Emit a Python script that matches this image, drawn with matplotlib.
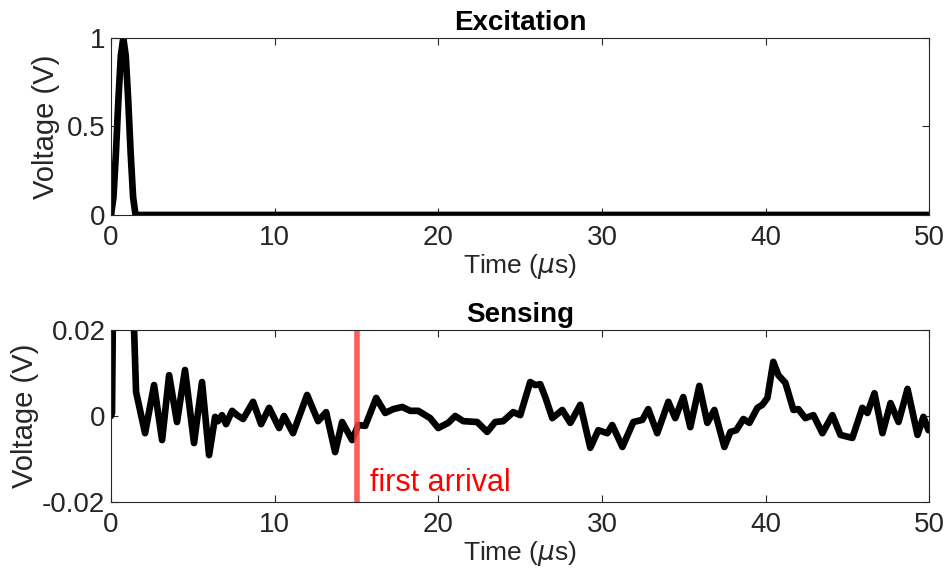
"""Excitation / sensing waveforms, two stacked panels in MATLAB look."""
import matplotlib
matplotlib.use("Agg")
import matplotlib.pyplot as plt  # noqa: E402

# Excitation pulse (us, V)
exc_t = [0, 0.15, 0.3, 0.45, 0.6, 0.75, 0.9, 1.05, 1.2, 1.35, 1.5, 50]
exc_v = [0, 0.1, 0.35, 0.65, 0.9, 1.0, 0.9, 0.65, 0.35, 0.1, 0, 0]

# Sensed signal (us, V)
sens_t = [0, 0.06, 0.12, 0.3, 0.8, 1.3, 1.41, 1.53, 2.08, 2.63, 3.12, 3.55,
          4.03, 4.52, 5.07, 5.56, 5.99, 6.36, 6.54, 6.78, 7.03, 7.40, 7.70,
          8.07, 8.68, 9.17, 9.66, 10.27, 10.57, 11.12, 11.98, 12.65, 13.14,
          13.69, 14.12, 14.73, 15.10, 15.53, 16.20, 16.75, 17.24, 17.79,
          18.28, 18.77, 19.50, 19.99, 20.60, 21.03, 21.52, 22.37, 22.98,
          23.47, 23.96, 24.57, 25.00, 25.61, 25.92, 26.22, 26.53, 26.96,
          27.57, 28.06, 28.67, 29.28, 29.77, 30.32, 30.62, 31.24, 31.91,
          32.46, 32.82, 33.37, 34.05, 34.47, 34.96, 35.39, 35.94, 36.43,
          36.86, 37.47, 37.84, 38.20, 38.63, 39.00, 39.49, 39.79, 40.10,
          40.46, 40.77, 41.20, 41.69, 41.99, 42.42, 42.91, 43.46, 44.07,
          44.56, 45.29, 45.90, 46.21, 46.64, 47.13, 47.62, 48.11, 48.66,
          49.27, 49.63, 49.94]
sens_v = [0, 0.0007, 0.025, 0.035, 0.05, 0.03, 0.02, 0.0056, -0.0040,
          0.0072, -0.0056, 0.0095, -0.0014, 0.0107, -0.0063, 0.0079,
          -0.0091, -0.0002, -0.0012, 0.0002, -0.0019, 0.0012, 0.0002,
          -0.0007, 0.0033, -0.0019, 0.0019, -0.0028, 0.0, -0.0040, 0.0049,
          -0.0012, 0.0009, -0.0084, -0.0014, -0.0056, -0.0021, -0.0023,
          0.0042, 0.0007, 0.0016, 0.0021, 0.0012, 0.0012, -0.0005, -0.0028,
          -0.0016, 0.0, -0.0012, -0.0014, -0.0037, -0.0014, -0.0012, 0.0009,
          0.0002, 0.0079, 0.0072, 0.0074, 0.0044, -0.0005, 0.0014, -0.0016,
          0.0026, -0.0074, -0.0033, -0.0040, -0.0021, -0.0072, -0.0014,
          -0.0009, 0.0016, -0.0040, 0.0033, -0.0005, 0.0044, -0.0026, 0.0070,
          -0.0016, 0.0014, -0.0072, -0.0037, -0.0033, -0.0007, -0.0016,
          0.0019, 0.0026, 0.0042, 0.0126, 0.0095, 0.0077, 0.0014, 0.0016,
          -0.0005, 0.0002, -0.0040, 0.0002, -0.0044, -0.0051, 0.0019, 0.0007,
          0.0053, -0.0040, 0.0030, -0.0014, 0.0063, -0.0044, -0.0002,
          -0.0033]

first_arrival_t = 15.0
x_ticks = [0, 10, 20, 30, 40, 50]

AX_COLOR = "#262626"

plt.rcParams.update({
    "font.family": ["Liberation Sans", "DejaVu Sans"],
    "font.size": 20,
    "axes.edgecolor": AX_COLOR,
    "axes.linewidth": 0.8,
    "xtick.color": AX_COLOR,
    "ytick.color": AX_COLOR,
    "xtick.direction": "in",
    "ytick.direction": "in",
    "xtick.top": True,
    "ytick.right": True,
    "xtick.major.size": 5,
    "ytick.major.size": 5,
    "xtick.major.pad": 7,
    "ytick.major.pad": 4,
    "axes.labelcolor": AX_COLOR,
    "mathtext.fontset": "dejavusans",
})


def _style(ax, title, ylab_x):
    ax.set_xlim(0, 50)
    ax.set_xticks(x_ticks)
    ax.set_xlabel(r"Time ($\mu$s)", labelpad=1, fontsize=19)
    ax.set_ylabel("Voltage (V)", fontsize=21)
    ax.yaxis.set_label_coords(ylab_x, 0.5)
    ax.set_title(title, fontweight="bold", fontsize=20, pad=6)
    ax.tick_params(labelsize=20)


fig = plt.figure(figsize=(9.44, 5.81), dpi=100)
ax1 = fig.add_axes([0.1176, 0.630, 0.867, 0.3046])
ax2 = fig.add_axes([0.1176, 0.136, 0.867, 0.296])

ax1.plot(exc_t, exc_v, color="black", lw=4.8, solid_joinstyle="round",
         solid_capstyle="round")
ax1.set_ylim(0, 1)
ax1.set_yticks([0, 0.5, 1])
ax1.set_yticklabels(["0", "0.5", "1"])
_style(ax1, "Excitation", -0.062)

ax2.plot(sens_t, sens_v, color="black", lw=4.8, solid_joinstyle="round",
         solid_capstyle="round")
ax2.axvline(first_arrival_t, color="#ff4040", alpha=0.85, lw=4)
ax2.text(first_arrival_t + 0.85, -0.0155, "first arrival", color="red",
         fontsize=22, va="center", ha="left")
ax2.set_ylim(-0.02, 0.02)
ax2.set_yticks([-0.02, 0, 0.02])
ax2.set_yticklabels(["-0.02", "0", "0.02"])
_style(ax2, "Sensing", -0.088)

fig.savefig("out.png", dpi=100)
plt.close(fig)
